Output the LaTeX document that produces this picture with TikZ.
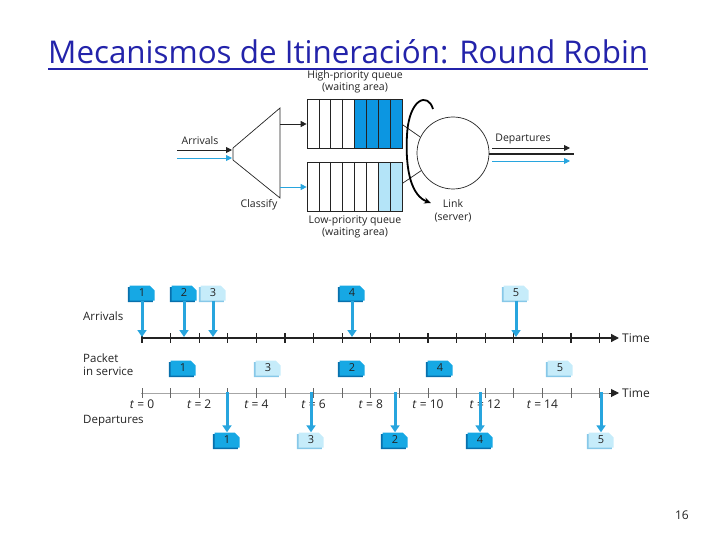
\documentclass[tikz,border=0pt]{standalone}
\usepackage{fontspec}
\setmainfont{Open Sans}
\newfontfamily\titlefont{Open Sans}
\usetikzlibrary{arrows.meta,shapes.misc,shadows}
\definecolor{titleblue}{RGB}{35,35,170}
\definecolor{pktdark}{RGB}{22,168,228}
\definecolor{pktdarkS}{RGB}{8,112,172}
\definecolor{pktlight}{RGB}{198,236,250}
\definecolor{pktlightS}{RGB}{135,200,232}
\definecolor{arrblue}{RGB}{40,165,222}
\definecolor{qdark}{RGB}{12,150,225}
\definecolor{qlight}{RGB}{180,228,248}
\definecolor{txtgray}{RGB}{35,35,35}
\begin{document}
\begin{tikzpicture}[x=1pt,y=-1pt,
  pkt/.style={chamfered rectangle, chamfered rectangle corners=north east,
    chamfered rectangle xsep=2.5pt, chamfered rectangle ysep=2.5pt,
    minimum width=25pt, minimum height=15pt, inner sep=0pt,
    font=\fontsize{11}{11}\selectfont, text=txtgray},
  pktd/.style={pkt, fill=pktdark, drop shadow={shadow xshift=-1.6pt, shadow yshift=-1.6pt, fill=pktdarkS, opacity=1}},
  pktl/.style={pkt, fill=pktlight, drop shadow={shadow xshift=-1.6pt, shadow yshift=-1.6pt, fill=pktlightS, opacity=1}},
  barrow/.style={arrblue, line width=3pt, -{Triangle[length=7pt,width=9pt]}},
  toplbl/.style={font=\fontsize{10.5}{12.5}\selectfont, text=txtgray, align=center, inner sep=0pt},
  botlbl/.style={font=\fontsize{11.5}{13.5}\selectfont, text=txtgray, align=left, inner sep=0pt, anchor=west},
  tlab/.style={font=\fontsize{12}{14}\selectfont, text=txtgray, inner sep=0pt},
  qline/.style={draw=txtgray, line width=0.7pt},
  axisA/.style={draw=txtgray, line width=1.4pt},
  axisS/.style={draw=gray!70, line width=1pt}
]
\useasboundingbox (0,0) rectangle (720,540);

% ---------- title ----------
\node[anchor=south west, inner sep=0pt, text=titleblue] (title) at (48,64)
  {\resizebox{600pt}{24pt}{\titlefont Mecanismos de Itineración: Round Robin}};
\draw[titleblue, line width=1.6pt] (48,69) -- (648,69);

% ---------- top diagram ----------
\node[toplbl] (hqlbl) at (355,82) {High-priority queue\\(waiting area)};
\node[toplbl] (lqlbl) at (355,227) {Low-priority queue\\(waiting area)};
\node[toplbl] (arrl) at (200,141) {Arrivals};
\node[toplbl] (clsl) at (259,205) {Classify};
\node[toplbl] (depl) at (523,139) {Departures};
\node[toplbl] (linkl) at (453,211) {Link\\(server)};

% queues
\fill[qdark] (354.5,99) rectangle (402,148);
\fill[qlight] (378.25,162) rectangle (402,211);
\node[qline, minimum width=95pt, minimum height=49pt, inner sep=0pt] (hq) at (354.5,123.5) {};
\node[qline, minimum width=95pt, minimum height=49pt, inner sep=0pt] (lq) at (354.5,186.5) {};
\foreach \i in {1,...,7} {
  \draw[qline] ({307+11.875*\i},99) -- ({307+11.875*\i},148);
  \draw[qline] ({307+11.875*\i},162) -- ({307+11.875*\i},211);
}

% classifier
\draw[qline] (233,148) -- (280,108) -- (280,198) -- (233,160) -- cycle;
\coordinate (clsA) at (280,124);
\coordinate (clsB) at (280,187);
\draw[txtgray, line width=0.9pt, -{Triangle[length=6pt,width=6pt]}] (clsA) -- (hq.west |- clsA);
\draw[arrblue, line width=0.9pt, -{Triangle[length=6pt,width=6pt]}] (clsB) -- (lq.west |- clsB);

% arrivals arrows
\coordinate (inA) at (177,150);
\coordinate (inAe) at (232,150);
\coordinate (inB) at (177,158);
\coordinate (inBe) at (232,158);
\draw[txtgray, line width=0.9pt, -{Triangle[length=6pt,width=6pt]}] (inA) -- (inAe);
\draw[arrblue, line width=0.9pt, -{Triangle[length=6pt,width=6pt]}] (inB) -- (inBe);

% link
\node[circle, qline, minimum size=72pt, inner sep=0pt] (link) at (453,153) {};
\draw[qline] (403,125) -- (link.154);
\draw[qline] (403,183) -- (link.209);

% round-robin curved arrow
\coordinate (rrS) at (433,109);
\coordinate (rrE) at (431,203);
\draw[black, line width=1.8pt, -{Stealth[length=7pt,width=6pt]}]
  (rrS) .. controls (428,92) and (409,98) .. (407,135)
        .. controls (405,172) and (412,196) .. (rrE);

% departures
\coordinate (dA) at (492,148);
\coordinate (dAe) at (570,148);
\coordinate (dL) at (489,154);
\coordinate (dLe) at (574,154);
\coordinate (dB) at (492,161);
\coordinate (dBe) at (570,161);
\draw[txtgray, line width=0.9pt, -{Triangle[length=6pt,width=6pt]}] (dA) -- (dAe);
\draw[txtgray, line width=2pt] (dL) -- (dLe);
\draw[arrblue, line width=0.9pt, -{Triangle[length=6pt,width=6pt]}] (dB) -- (dBe);

% ---------- timeline ----------
\node[botlbl] (larr) at (83,316) {Arrivals};
\node[botlbl] (lsrv) at (83,364.5) {Packet\\in service};
\node[botlbl] (ldep) at (83,421) {Departures};

% axes
\coordinate (axA0) at (141,338);
\coordinate (axA1) at (619,338);
\coordinate (axS0) at (141,393);
\coordinate (axS1) at (619,393);
\draw[axisA, -{Triangle[length=8pt,width=8pt]}] (axA0) -- (axA1);
\draw[axisS] (axS0) -- (611,393);
\draw[txtgray, line width=1pt, -{Triangle[length=8pt,width=8pt]}] (609,393) -- (axS1);
\foreach \k in {0,...,16} {
  \draw[txtgray, line width=1.1pt] ({142+28.6*\k},333) -- ({142+28.6*\k},343);
  \draw[gray!80!black, line width=0.9pt] ({142+28.6*\k},388) -- ({142+28.6*\k},398);
}
\node[tlab, anchor=west] (timeA) at (622,338) {Time};
\node[tlab, anchor=west] (timeS) at (622,393) {Time};
\foreach \k in {0,2,...,14} {
  \node[tlab] (t\k) at ({142+28.6*\k},404.5) {\textit{t} = \k};
}

% arrival packets
\node[pktd] (a1) at (142,293) {1};
\node[pktd] (a2) at (184,293) {2};
\node[pktl] (a3) at (213,293) {3};
\node[pktd] (a4) at (352,293) {4};
\node[pktl] (a5) at (516,293) {5};
\foreach \n/\x in {1/142,2/184,3/213,4/352,5/516} {
  \coordinate (ae\n) at (\x,337);
  \draw[barrow] (a\n.south) -- (ae\n);
}

% packets in service
\node[pktd] (s1) at (183,368) {1};
\node[pktl] (s3) at (268,368) {3};
\node[pktd] (s2) at (352,368) {2};
\node[pktd] (s4) at (440,368) {4};
\node[pktl] (s5) at (560,368) {5};

% departures
\node[pktd] (d1) at (227,440) {1};
\node[pktl] (d3) at (311,440) {3};
\node[pktd] (d2) at (395,440) {2};
\node[pktd] (d4) at (480,440) {4};
\node[pktl] (d5) at (601,440) {5};
\foreach \n/\x in {1/227,3/311,2/395,4/480,5/601} {
  \coordinate (ds\n) at (\x,392);
  \draw[barrow] (ds\n) -- (d\n.north);
}

% page number
\node[anchor=east, inner sep=0pt, font=\fontsize{12}{14}\selectfont, text=txtgray] (pnum) at (689,515) {16};
\end{tikzpicture}
\end{document}
